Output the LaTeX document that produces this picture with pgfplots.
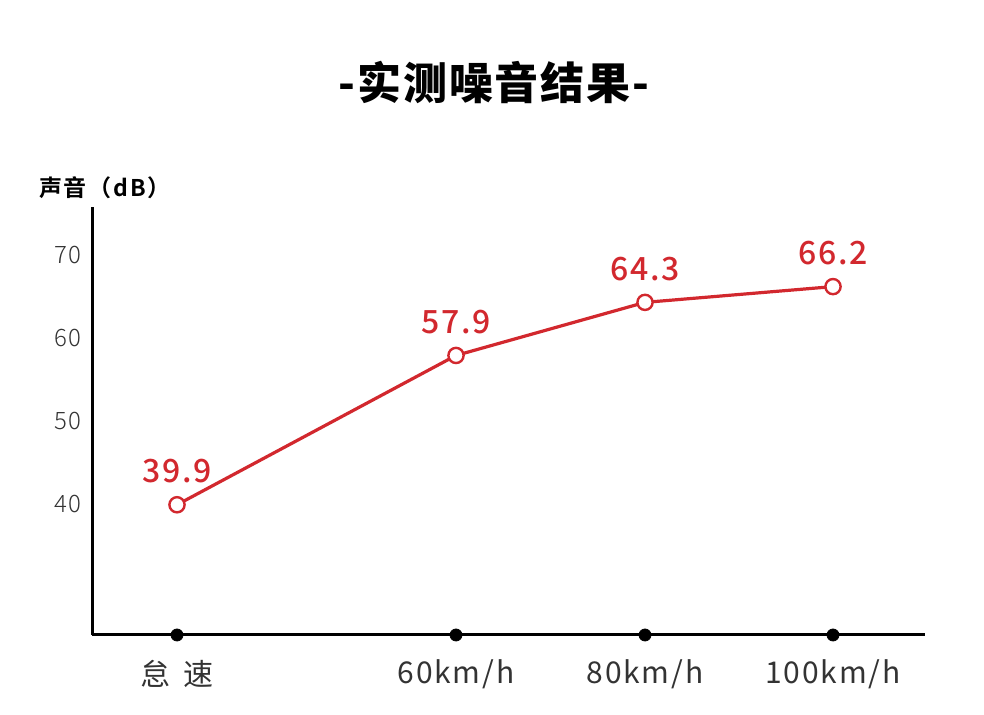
\documentclass[border=0pt]{standalone}
\usepackage{fontspec}
\usepackage{pgfplots}
\pgfplotsset{compat=1.18}
\setmainfont{Noto Sans CJK SC}
\newfontfamily\cjk{Noto Sans CJK SC}
\newfontfamily\cjkhead[LetterSpace=4]{Noto Sans CJK SC Black}
\newfontfamily\cjklabel[LetterSpace=8]{Noto Sans CJK SC Bold}
\newfontfamily\valfont[LetterSpace=5]{Noto Sans CJK SC Medium}
\newfontfamily\yfont[LetterSpace=5]{Noto Sans CJK SC Light}
\newfontfamily\tickfont[LetterSpace=6]{Noto Sans CJK SC}
\definecolor{redline}{HTML}{D2282E}
\definecolor{ticktext}{HTML}{333333}

\begin{document}
\begin{tikzpicture}[x=0.5pt,y=0.5pt]
  % page frame, 984 x 715 px at 0.5pt per px
  \path[use as bounding box] (0,0) rectangle (984,715);

  \node[font=\cjkhead\fontsize{22}{24}\selectfont] at (494,633) {-实测噪音结果-};
  \node[anchor=west,font=\cjklabel\fontsize{11.5}{13}\selectfont] at (32,527) {声音（dB）};

  \begin{axis}[
      at={(46pt,40pt)}, anchor=south west,
      scale only axis,
      width=416.5pt, height=214pt,
      xmin=92, xmax=925,
      ymin=24.2, ymax=75.8,
      axis x line=bottom, axis y line=left,
      axis line style={line width=1.5pt, -},
      ytick={40,50,60,70},
      xtick={177,456,645,833},
      xticklabels={怠\hspace{7pt}速,60km/h,80km/h,100km/h},
      major tick length=0pt,
      tick style={draw=none},
      yticklabel style={font=\yfont\fontsize{12}{14}\selectfont, text=ticktext, xshift=-2pt},
      xticklabel style={font=\tickfont\fontsize{15}{17}\selectfont, text=ticktext, yshift=-9pt},
      /pgf/number format/assume math mode=true,
      clip=false,
    ]
    % dots on the x axis
    \addplot[only marks, mark=*, mark size=3pt, black] coordinates {
      (177,24.2) (456,24.2) (645,24.2) (833,24.2)
    };
    % measured noise
    \addplot[redline, line width=1.6pt, mark=*, mark size=3.8pt,
      mark options={fill=white, draw=redline, line width=1.2pt},
      nodes near coords,
      every node near coord/.append style={font=\valfont\fontsize{16}{18}\selectfont, text=redline, anchor=south, yshift=7pt},
      point meta=explicit symbolic] coordinates {
      (177,39.9) [39.9]
      (456,57.9) [57.9]
      (645,64.3) [64.3]
      (833,66.2) [66.2]
    };
  \end{axis}
\end{tikzpicture}
\end{document}
